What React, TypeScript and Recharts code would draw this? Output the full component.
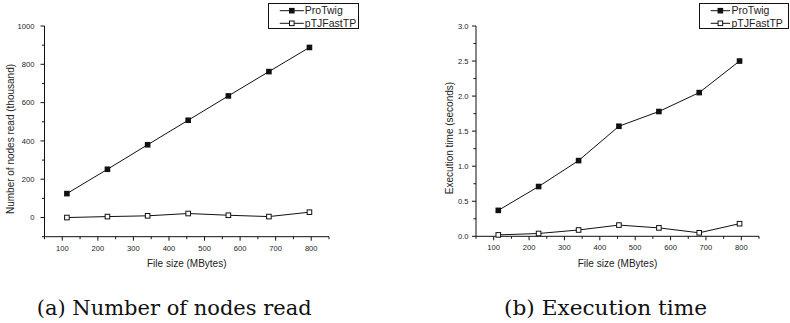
import React from 'react';
import { LineChart, Line, XAxis, YAxis, Legend } from 'recharts';

// ---- data ----
const fileSizes = [113, 227, 340, 454, 567, 681, 795];
const nodesProTwig = [125, 252, 380, 508, 635, 762, 888];
const nodesPTJFastTP = [0, 5, 9, 21, 12, 5, 28];
const timeProTwig = [0.37, 0.71, 1.08, 1.57, 1.78, 2.05, 2.5];
const timePTJFastTP = [0.02, 0.04, 0.09, 0.16, 0.12, 0.05, 0.18];
const seriesNames = ['ProTwig', 'pTJFastTP'];

const xTicks = [50, 100, 150, 200, 250, 300, 350, 400, 450, 500, 550, 600, 650, 700, 750, 800, 850];
const xMajorTicks = [100, 200, 300, 400, 500, 600, 700, 800];
const nodesTicks = [-100, 0, 100, 200, 300, 400, 500, 600, 700, 800, 900, 1000];
const nodesMajorTicks = [0, 200, 400, 600, 800, 1000];
const timeTicks = [0, 0.25, 0.5, 0.75, 1, 1.25, 1.5, 1.75, 2, 2.25, 2.5, 2.75, 3];
const timeMajorTicks = [0, 0.5, 1, 1.5, 2, 2.5, 3];

const xTitle = 'File size (MBytes)';
const nodesTitle = 'Number of nodes read (thousand)';
const timeTitle = 'Execution time (seconds)';
const captions = ['(a) Number of nodes read', '(b) Execution time'];

const nodesData = fileSizes.map((x, i) => ({ x, a: nodesProTwig[i], b: nodesPTJFastTP[i] }));
const timeData = fileSizes.map((x, i) => ({ x, a: timeProTwig[i], b: timePTJFastTP[i] }));

// ---- styles ----
const SANS = '"Liberation Sans", Arial, sans-serif';
const SERIF = '"DejaVu Serif", "Liberation Serif", serif';
const INK = '#111';

const isIn = (list: number[], v: number) => list.some((m) => Math.abs(m - v) < 1e-9);

function SquareDot(props: any) {
  const { cx, cy, filled, index } = props;
  if (cx == null || cy == null) return null;
  if (filled) {
    const s = 5.6;
    return <rect key={`f-${index}`} x={cx - s / 2} y={cy - s / 2} width={s} height={s} fill={INK} />;
  }
  const s = 4.6;
  return (
    <rect key={`h-${index}`} x={cx - s / 2} y={cy - s / 2} width={s} height={s} fill="#fff" stroke={INK} strokeWidth={1} />
  );
}

const makeXTick = (major: number[]) => (props: any) => {
  const { x, y, payload } = props;
  const isMajor = isIn(major, payload.value);
  return (
    <g>
      <line x1={x} y1={y} x2={x} y2={y + (isMajor ? 4 : 2.5)} stroke={INK} strokeWidth={1} />
      {isMajor && (
        <text x={x} y={y + 14} textAnchor="middle" fontSize={7.6} fontFamily={SANS} fill="#222">
          {payload.value}
        </text>
      )}
    </g>
  );
};

const makeYTick = (major: number[], fmt: (v: number) => string, gap: number) => (props: any) => {
  const { x, y, payload } = props;
  const isMajor = isIn(major, payload.value);
  return (
    <g>
      <line x1={x - (isMajor ? 4 : 2.5)} y1={y} x2={x} y2={y} stroke={INK} strokeWidth={1} />
      {isMajor && (
        <text x={x - gap} y={y} dy="0.35em" textAnchor="end" fontSize={7.6} fontFamily={SANS} fill="#222">
          {fmt(payload.value)}
        </text>
      )}
    </g>
  );
};

function AxisTitle(props: any) {
  const { tx, ty, title, vertical } = props;
  return (
    <text
      x={tx}
      y={ty}
      textAnchor="middle"
      dominantBaseline="central"
      fontSize={10}
      fontFamily={SANS}
      fill="#222"
      transform={vertical ? `rotate(-90, ${tx}, ${ty})` : undefined}
    >
      {title}
    </text>
  );
}

function LegendBox(props: any) {
  const { payload, width, height, lx1, lx2, textX } = props;
  const items = (payload && payload.length ? payload : seriesNames.map((n) => ({ value: n }))) as any[];
  return (
    <svg width={width} height={height} style={{ display: 'block' }}>
      <rect x={0.5} y={0.5} width={width - 1} height={height - 1} fill="#fff" stroke={INK} strokeWidth={1} />
      {items.map((entry, i) => {
        const cy = 7.7 + i * 12.6;
        const mx = (lx1 + lx2) / 2;
        return (
          <g key={`leg-${i}`}>
            <line x1={lx1} y1={cy} x2={lx2} y2={cy} stroke={INK} strokeWidth={1} />
            <SquareDot cx={mx} cy={cy} filled={i === 0} index={i} />
            <text x={textX} y={cy} dy="0.36em" fontSize={10.5} fontFamily={SANS} fill="#222">
              {entry.value}
            </text>
          </g>
        );
      })}
    </svg>
  );
}

function Panel(props: any) {
  const {
    data, yDomain, yTicks, yMajor, yFmt, yGap, yTitle, yTitlePos, margin, legendPos, legendGeom,
  } = props;
  const W = 395;
  const H = 270;
  const plotCx = margin.left + 44 + (W - margin.left - 44 - margin.right) / 2;
  return (
    <LineChart width={W} height={H} data={data} margin={margin}>
      <XAxis
        type="number"
        dataKey="x"
        domain={[50, 850]}
        ticks={xTicks}
        interval={0}
        height={30}
        tickSize={0}
        tickMargin={0}
        tickLine={false}
        axisLine={{ stroke: INK, strokeWidth: 1 }}
        tick={makeXTick(xMajorTicks)}
        label={<AxisTitle tx={plotCx} ty={263} title={xTitle} />}
      />
      <YAxis
        type="number"
        domain={yDomain}
        ticks={yTicks}
        interval={0}
        width={44}
        tickSize={0}
        tickMargin={0}
        tickLine={false}
        axisLine={{ stroke: INK, strokeWidth: 1 }}
        tick={makeYTick(yMajor, yFmt, yGap)}
        label={<AxisTitle tx={yTitlePos[0]} ty={yTitlePos[1]} title={yTitle} vertical />}
      />
      <Legend
        layout="vertical"
        align="center"
        verticalAlign="middle"
        wrapperStyle={{ left: legendPos[0], top: legendPos[1], width: legendGeom.width, height: legendGeom.height }}
        content={(p: any) => <LegendBox payload={p.payload} {...legendGeom} />}
      />
      <Line
        type="linear"
        dataKey="a"
        name={seriesNames[0]}
        stroke={INK}
        strokeWidth={1}
        dot={(p: any) => <SquareDot key={`a-${p.index}`} {...p} filled />}
        activeDot={false}
        isAnimationActive={false}
      />
      <Line
        type="linear"
        dataKey="b"
        name={seriesNames[1]}
        stroke={INK}
        strokeWidth={1}
        dot={(p: any) => <SquareDot key={`b-${p.index}`} {...p} filled={false} />}
        activeDot={false}
        isAnimationActive={false}
      />
    </LineChart>
  );
}

export default function App() {
  return (
    <div style={{ position: 'absolute', left: 0, top: 0, width: 790, height: 323, background: '#fff', overflow: 'hidden' }}>
      <svg width={790} height={323} style={{ position: 'absolute', left: 0, top: 0 }}>
        <text x={36.7} y={315} fontSize={21} fontFamily={SERIF} fill="#111" textLength={275} lengthAdjust="spacingAndGlyphs">
          {captions[0]}
        </text>
        <text x={504} y={315} fontSize={21} fontFamily={SERIF} fill="#111" textLength={203} lengthAdjust="spacingAndGlyphs">
          {captions[1]}
        </text>
      </svg>
      <div style={{ position: 'absolute', left: 0, top: 0 }}>
        <Panel
          data={nodesData}
          yDomain={[-100, 1000]}
          yTicks={nodesTicks}
          yMajor={nodesMajorTicks}
          yFmt={(v: number) => String(v)}
          yGap={10}
          yTitle={nodesTitle}
          yTitlePos={[10.3, 139]}
          margin={{ top: 26, right: 66, bottom: 3.3, left: 0.5 }}
          legendPos={[267.5, 3]}
          legendGeom={{ width: 91, height: 26, lx1: 11.8, lx2: 35.8, textX: 36.8 }}
        />
      </div>
      <div style={{ position: 'absolute', left: 395, top: 0 }}>
        <Panel
          data={timeData}
          yDomain={[0, 3]}
          yTicks={timeTicks}
          yMajor={timeMajorTicks}
          yFmt={(v: number) => v.toFixed(1)}
          yGap={7.5}
          yTitle={timeTitle}
          yTitlePos={[54, 138]}
          margin={{ top: 26, right: 31, bottom: 3.7, left: 37 }}
          legendPos={[304, 3]}
          legendGeom={{ width: 90, height: 26, lx1: 11.7, lx2: 31, textX: 32.5 }}
        />
      </div>
    </div>
  );
}
